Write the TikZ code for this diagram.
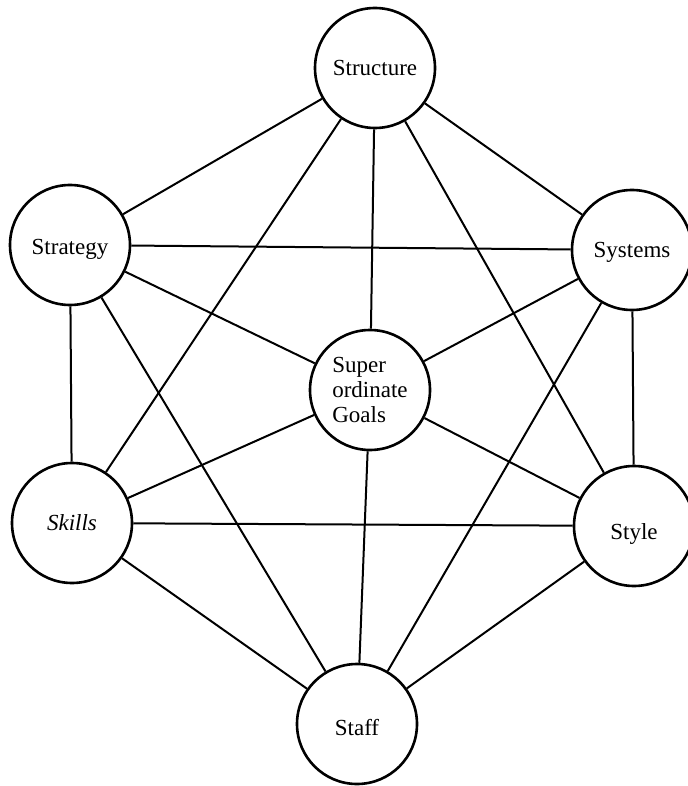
\documentclass[tikz,border=0pt]{standalone}
\usepackage{fontspec}
\setmainfont{Liberation Serif}
\newcommand{\lowertext}[2]{\raisebox{-#1}[\height][\depth]{#2}}
\begin{document}
\begin{tikzpicture}[x=0.5pt,y=-0.5pt,
  elem/.style={circle,draw,line width=1.3pt,minimum size=60pt,inner sep=0pt,
    font=\fontsize{11.5}{12.5}\selectfont},
  link/.style={line width=1pt}]
\useasboundingbox (0,0) rectangle (687,786);
\node[elem] (structure) at (375,68) {Structure};
\node[elem] (strategy) at (70,245) {\lowertext{2pt}{Strategy}};
\node[elem] (systems) at (632,250) {\lowertext{1pt}{Systems}};
\node[elem,align=left] (goals) at (370,390) {Super\\ordinate\\Goals};
\node[elem] (skills) at (72,523) {\itshape Skills};
\node[elem] (style) at (634,526) {\lowertext{4pt}{Style}};
\node[elem] (staff) at (357,724) {\lowertext{2pt}{Staff}};
\draw[link] (structure) -- (strategy);
\draw[link] (structure) -- (systems);
\draw[link] (structure) -- (goals);
\draw[link] (structure) -- (skills);
\draw[link] (structure) -- (style);
\draw[link] (strategy) -- (systems);
\draw[link] (strategy) -- (goals);
\draw[link] (strategy) -- (skills);
\draw[link] (strategy) -- (staff);
\draw[link] (systems) -- (goals);
\draw[link] (systems) -- (style);
\draw[link] (systems) -- (staff);
\draw[link] (goals) -- (skills);
\draw[link] (goals) -- (style);
\draw[link] (goals) -- (staff);
\draw[link] (skills) -- (style);
\draw[link] (skills) -- (staff);
\draw[link] (style) -- (staff);
\end{tikzpicture}
\end{document}
